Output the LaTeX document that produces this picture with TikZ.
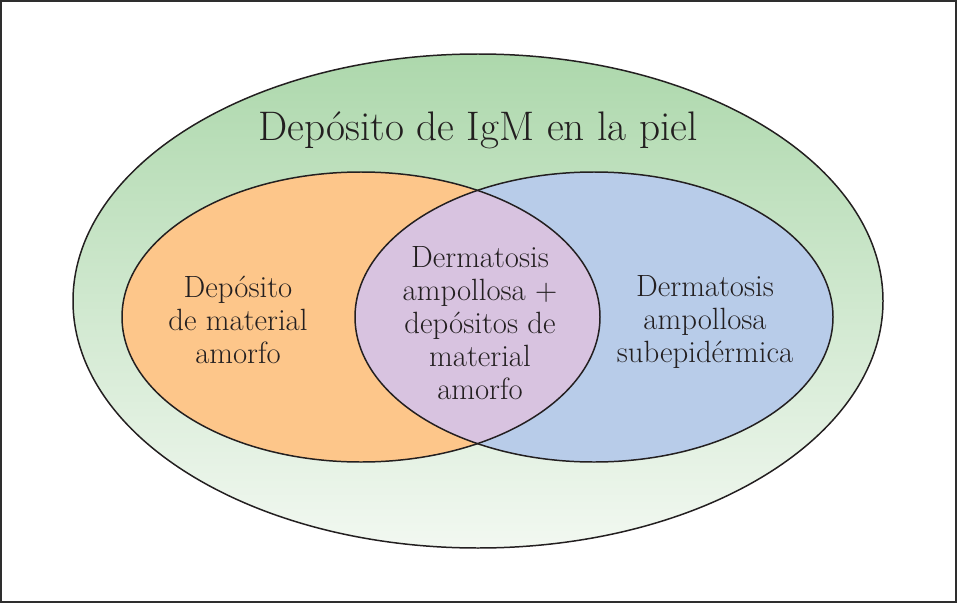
\documentclass[tikz,border=0pt]{standalone}
\usepackage{xcolor}
\usepackage{tikz}
\definecolor{greenTop}{HTML}{ADD8AC}
\definecolor{greenMid}{HTML}{B3DBB1}
\definecolor{greenBottom}{HTML}{F2F8F1}
\definecolor{orangeSoft}{HTML}{FDC68A}
\definecolor{blueSoft}{HTML}{B8CCE9}
\definecolor{lilacSoft}{HTML}{D8C3E0}
\definecolor{inkDark}{HTML}{231F20}
\definecolor{frameGray}{HTML}{2E2E2E}

\begin{document}
\begin{tikzpicture}[x=0.02cm,y=0.02cm]

            \tikzset{
                rim/.style={
                    draw=inkDark,
                    line width=0.85pt
                },
                venntext/.style={
                    font=\fontsize{17.5}{18.7}\selectfont,
                    text=inkDark,
                    align=center
                }
            }

            \newcommand{\OuterSet}{(478,302) ellipse [x radius=405, y radius=247]}
            \newcommand{\OrangeSet}{(361,286) ellipse [x radius=239, y radius=145]}
            \newcommand{\BlueSet}{(594,286) ellipse [x radius=239, y radius=145]}

            \useasboundingbox (0,0) rectangle (957,603);
            \draw[frameGray, line width=1.4pt] (1.25,1.25) rectangle (955.75,601.75);

            % outer set
            \shade[top color=greenTop, middle color=greenMid, bottom color=greenBottom] \OuterSet;
            \draw[rim] \OuterSet;

            % the two inner sets and their overlap
            \fill[orangeSoft] \OrangeSet;
            \fill[blueSoft] \BlueSet;
            \begin{scope}
                \clip \OrangeSet;
                \fill[lilacSoft] \BlueSet;
            \end{scope}
            \draw[rim] \OrangeSet;
            \draw[rim] \BlueSet;

            \node[venntext, font=\fontsize{23.5}{26}\selectfont] (title) at (478,473) {Depósito de IgM en la piel};
            \node[venntext] (amorfo) at (238,283) {Depósito\\de material\\amorfo};
            \node[venntext] (ambos) at (480,280) {Dermatosis\\ampollosa +\\depósitos de\\material\\amorfo};
            \node[venntext] (ampollosa) at (705,281) {Dermatosis\\ampollosa\\subepidérmica};

        \end{tikzpicture}
\end{document}
